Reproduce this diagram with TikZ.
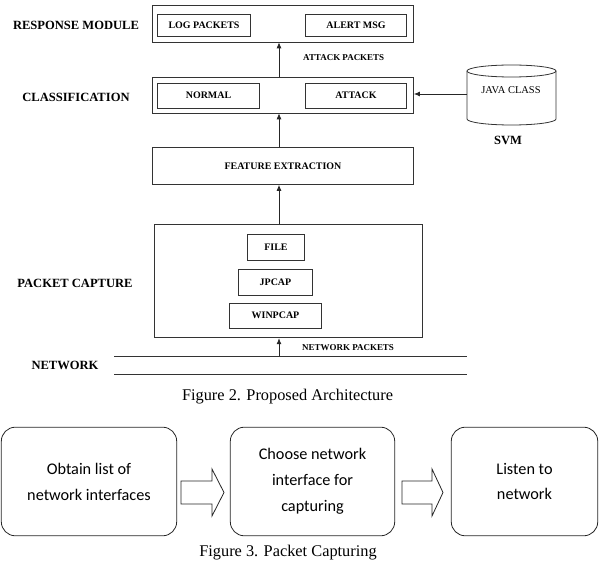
\documentclass[tikz,border=0pt]{standalone}
\usepackage{fontspec}
\setmainfont{Liberation Serif}
\newfontfamily\carl{Carlito}
\usetikzlibrary{arrows.meta}
\begin{document}
\begin{tikzpicture}[x=1bp,y=-1bp,
  box/.style={draw=black!80, line width=0.8bp, inner sep=0pt},
  lab/.style={font=\fontsize{12.6}{14}\selectfont\bfseries, inner sep=0pt},
  small/.style={font=\fontsize{9}{11}\selectfont\bfseries, inner sep=0pt},
  inb/.style={box, font=\fontsize{10}{12}\selectfont\bfseries},
  arr/.style={line width=0.8bp, draw=black!85, -{Latex[length=6bp,width=5bp]}},
  rbox/.style={draw=black!85, line width=0.8bp, rounded corners=14bp, font=\carl\fontsize{16.3}{26}\selectfont, align=center, inner sep=0pt},
  captxt/.style={font=\fontsize{16.4}{18}\selectfont, inner sep=0pt},
  blk/.style={draw=black!85, line width=0.8bp, fill=white}
]
\useasboundingbox (0,0) rectangle (600,561);
% Figure 2
\node[box, minimum width=262, minimum height=37] (resp) at (283,23.5) {};
\node[inb, minimum width=94, minimum height=22] (log) at (204,25) {LOG PACKETS};
\node[inb, minimum width=102, minimum height=22] (alert) at (356,25) {ALERT MSG};
\node[lab] (lresp) at (76,25) {RESPONSE MODULE};

\node[box, minimum width=262, minimum height=36] (cls) at (283,95) {};
\node[inb, minimum width=103, minimum height=25] (normal) at (208.5,95.5) {NORMAL};
\node[inb, minimum width=102, minimum height=25] (attack) at (356,95.5) {ATTACK};
\node[lab] (lcls) at (76,97) {CLASSIFICATION};

\node[inb, minimum width=262, minimum height=37] (feat) at (283,166) {FEATURE EXTRACTION};

\node[box, minimum width=269, minimum height=114] (pkt) at (288.5,281) {};
\node[inb, minimum width=58, minimum height=26] (file) at (276,247) {FILE};
\node[inb, minimum width=75, minimum height=26] (jpcap) at (275.5,282) {JPCAP};
\node[inb, minimum width=93, minimum height=25] (winpcap) at (275.5,315.5) {WINPCAP};
\node[lab] (lpkt) at (75,283) {PACKET CAPTURE};

\node[lab] (lnet) at (65,365) {NETWORK};
\coordinate (n1a) at (114,356); \coordinate (n1b) at (467,356);
\coordinate (n2a) at (114,374); \coordinate (n2b) at (467,374);
\draw[line width=0.8bp, draw=black!80] (n1a) -- (n1b);
\draw[line width=0.8bp, draw=black!80] (n2a) -- (n2b);

\coordinate (ax) at (279,0);
\coordinate (netpt) at (279,356);
\draw[arr] (cls.north -| ax) -- (resp.south -| ax);
\draw[arr] (feat.north -| ax) -- (cls.south -| ax);
\draw[arr] (pkt.north -| ax) -- (feat.south -| ax);
\draw[arr] (netpt) -- (pkt.south -| ax);

\node[small, anchor=west] (lap) at (303,58) {ATTACK PACKETS};
\node[small, anchor=west] (lnp) at (302,347.5) {NETWORK PACKETS};

% cylinder
\draw[line width=0.8bp, draw=black!80] (467,71) -- (467,119) arc (180:0:44.5 and 6) -- (556,71);
\draw[line width=0.8bp, draw=black!80] (511.5,71) ellipse (44.5 and 6);
\node[font=\fontsize{10.5}{12}\selectfont, inner sep=0pt] (java) at (511,90) {JAVA CLASS};
\coordinate (cyl) at (467,94);
\draw[arr] (cyl) -- (cls.east |- cyl);
\node[lab] (svm) at (508,140) {SVM};

\node[captxt] (cap2) at (287.5,397) {Figure 2. Proposed Architecture};

% Figure 3
\node[rbox, minimum width=176, minimum height=109] (b1) at (89,481.5) {Obtain list of\\network interfaces};
\node[rbox, minimum width=165, minimum height=109] (b2) at (312.5,481.5) {Choose network\\interface for\\capturing};
\node[rbox, minimum width=147, minimum height=109] (b3) at (524.5,481.5) {Listen to\\network};
\draw[blk] (181,481)--(212,481)--(212,469)--(224,492.5)--(212,516)--(212,504)--(181,504)--cycle;
\draw[blk] (402,481)--(432,481)--(432,469)--(443,492.5)--(432,516)--(432,504)--(402,504)--cycle;
\node[captxt] (cap3) at (288,553) {Figure 3. Packet Capturing};
\end{tikzpicture}
\end{document}
